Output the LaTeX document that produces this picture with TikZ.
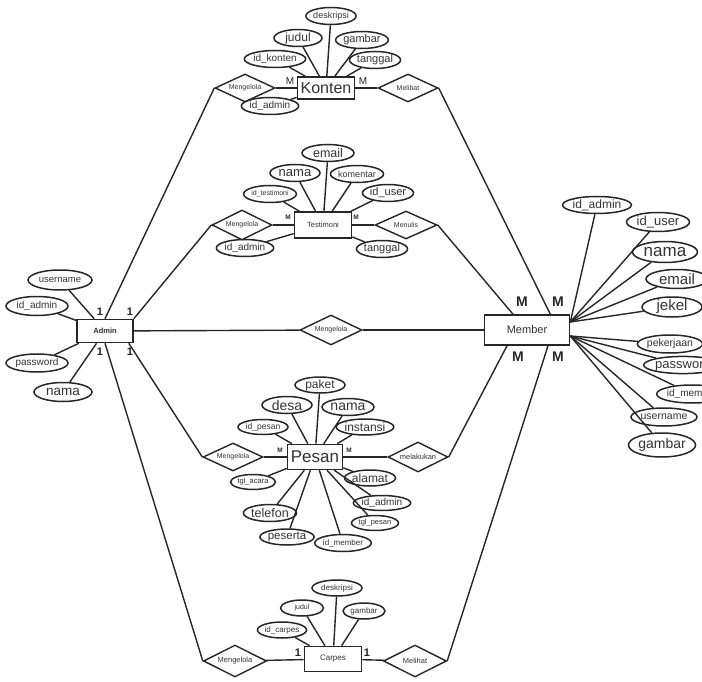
\documentclass[tikz,border=0pt]{standalone}
\usepackage{fontspec}
\setmainfont{Liberation Sans}
\usetikzlibrary{shapes.geometric}
\newcommand\FS[1]{\fontsize{#1}{#1}\selectfont}
\begin{document}
\begin{tikzpicture}[x=1pt,y=-1pt,
  every node/.style={text=black!80},
  ln/.style={line width=1.4pt, draw=black!85},
  A/.style n args={3}{draw=black!85, ellipse, line width=1.5pt, inner sep=0pt, minimum width=#1, minimum height=#2, font=\FS{#3}},
  E/.style n args={3}{draw=black!85, rectangle, line width=1.6pt, inner sep=0pt, minimum width=#1, minimum height=#2, font=\FS{#3}},
  R/.style n args={3}{draw=black!85, diamond, aspect=2.3, line width=1.4pt, inner sep=0pt, minimum width=#1, minimum height=#2, font=\FS{#3}},
  cardb/.style={font=\bfseries\FS{#1}, inner sep=0pt, text=black!85},
  cardn/.style={font=\FS{#1}, inner sep=0pt, text=black!85}]
\useasboundingbox (0,0) rectangle (702,682);

% ---------------- entities
\node[E={56}{23}{8}, font=\bfseries\FS{7.5}] (a) at (105,331) {Admin};
\node[E={85}{30}{11}] (m) at (527,330) {Member};
\node[E={57}{22}{16}] (k) at (326,88) {Konten};
\node[E={57}{26}{7.5}] (t) at (323,225) {Testimoni};
\node[E={55}{25}{17}] (p) at (315,457) {Pesan};
\node[E={57}{25}{8}] (c) at (333,659) {Carpes};

% ---------------- relationships
\node[R={60}{28}{7}] (kr1) at (245,88) {Mengelola};
\node[R={60}{28}{7}] (kr2) at (408,88) {Melihat};
\node[R={60}{30}{7}] (tr1) at (242,225) {Mengelola};
\node[R={62}{28}{7}] (tr2) at (406,225) {Menulis};
\node[R={62}{30}{7}] (mr) at (331,330) {Mengelola};
\node[R={60}{28}{7}] (pr1) at (233,457) {Mengelola};
\node[R={60}{30}{7.5}] (pr2) at (418,457) {melakukan};
\node[R={63}{32}{7.5}] (cr1) at (235,661) {Mengelola};
\node[R={63}{32}{7.5}] (cr2) at (415,661) {Melihat};

% ---------------- Admin attributes
\node[A={64}{20}{9.5}] (a1) at (60,280) {username};
\node[A={62}{19}{10}] (a2) at (37,306) {id\_admin};
\node[A={62}{18}{10}] (a3) at (37,363) {password};
\node[A={58}{19}{13.5}] (a4) at (63,392) {nama};

% ---------------- Konten attributes
\node[A={50}{17}{9}] (k1) at (331,16) {deskripsi};
\node[A={48}{17}{12}] (k2) at (298,38) {judul};
\node[A={47}{17}{11}] (k3) at (362,40) {gambar};
\node[A={48}{17}{11}] (k4) at (375,60) {tanggal};
\node[A={50}{17}{10}] (k5) at (275,59) {id\_konten};
\node[A={50}{17}{10}] (k6) at (270,106) {id\_admin};

% ---------------- Testimoni attributes
\node[A={52}{17}{12.5}] (t1) at (328,153) {email};
\node[A={50}{17}{13}] (t2) at (295,173) {nama};
\node[A={50}{17}{9}] (t3) at (357,174) {komentar};
\node[A={48}{17}{7}] (t4) at (270,194) {id\_testimoni};
\node[A={48}{17}{11}] (t5) at (388,193) {id\_user};
\node[A={53}{17}{10}] (t6) at (245,248) {id\_admin};
\node[A={48}{17}{11}] (t7) at (382,249) {tanggal};

% ---------------- Member attributes
\node[A={63}{17}{12}] (m1) at (597,205) {id\_admin};
\node[A={63}{19}{13}] (m2) at (658,222) {id\_user};
\node[A={65}{21}{17}] (m3) at (665,252) {nama};
\node[A={62}{19}{15}] (m4) at (677,279) {email};
\node[A={60}{20}{15}] (m5) at (672,307) {jekel};
\node[A={60}{18}{10.5}] (m6) at (670,344) {pekerjaan};
\node[A={65}{17}{13}] (m7) at (683,365) {password};
\node[A={58}{18}{10}] (m8) at (692,394) {id\_member};
\node[A={58}{18}{10.5}] (m9) at (664,417) {username};
\node[A={67}{24}{14}] (m10) at (662,445) {gambar};

% ---------------- Pesan attributes
\node[A={50}{16}{12}] (p1) at (320,385) {paket};
\node[A={50}{17}{14}] (p2) at (287,405) {desa};
\node[A={52}{17}{14}] (p3) at (348,407) {nama};
\node[A={50}{15}{8.5}] (p4) at (263,427) {id\_pesan};
\node[A={52}{16}{12}] (p5) at (365,427) {instansi};
\node[A={45}{15}{7.5}] (p6) at (253,482) {tgl\_acara};
\node[A={48}{16}{12}] (p7) at (370,478) {alamat};
\node[A={52}{15}{10}] (p8) at (382,503) {id\_admin};
\node[A={50}{17}{12.5}] (p9) at (270,513) {telefon};
\node[A={47}{15}{7.5}] (p10) at (375,523) {tgl\_pesan};
\node[A={47}{16}{11.5}] (p11) at (287,537) {peserta};
\node[A={50}{17}{8}] (p12) at (343,543) {id\_member};

% ---------------- Carpes attributes
\node[A={50}{16}{8}] (c1) at (337,588) {deskripsi};
\node[A={43}{16}{7}] (c2) at (302,608) {judul};
\node[A={42}{16}{8}] (c3) at (364,611) {gambar};
\node[A={47}{16}{8}] (c4) at (282,630) {id\_carpes};

% ---------------- cardinalities
\node[cardb=11] (n1) at (100,312) {1};
\node[cardb=11] (n2) at (130,312) {1};
\node[cardb=11] (n3) at (100,352) {1};
\node[cardb=11] (n4) at (130,352) {1};
\node[cardn=10] (n5) at (290,81) {M};
\node[cardn=10] (n6) at (363,81) {M};
\node[cardb=6.5] (n7) at (288,217) {M};
\node[cardb=6.5] (n8) at (356,217) {M};
\node[cardb=6.5] (n9) at (280,450) {M};
\node[cardb=6.5] (n10) at (349,450) {M};
\node[cardb=11] (n11) at (298,653) {1};
\node[cardb=11] (n12) at (367,653) {1};
\node[cardb=14] (n13) at (522,302) {M};
\node[cardb=14] (n14) at (558,302) {M};
\node[cardb=14] (n15) at (518,357) {M};
\node[cardb=14] (n16) at (558,357) {M};

\coordinate (mu) at ([yshift=8pt]m.east);
\coordinate (ml) at ([yshift=-6pt]m.east);

% ---------------- connectors
\draw[ln] (a.north) -- (kr1.west);
\draw[ln] (a.north east) -- (tr1.west);
\draw[ln] (a) -- (mr);
\draw[ln] (mr) -- (m);
\draw[ln] (a.south) -- (cr1.west);
\draw[ln] ([xshift=-5pt]a.south east) -- (pr1.west);

\draw[ln] (kr1) -- (k);
\draw[ln] (k) -- (kr2);
\draw[ln] (kr2.east) -- ([xshift=-20pt]m.north east);
\draw[ln] (tr1) -- (t);
\draw[ln] (t) -- (tr2);
\draw[ln] (tr2.east) -- ([xshift=-14pt]m.north);
\draw[ln] (pr1) -- (p);
\draw[ln] (p) -- (pr2);
\draw[ln] (pr2.east) -- ([xshift=-20pt]m.south);
\draw[ln] (cr1) -- (c);
\draw[ln] (c) -- (cr2);
\draw[ln] (cr2.east) -- ([xshift=21pt]m.south);

\foreach \i in {a1,a2,a3,a4} \draw[ln] (a) -- (\i);
\foreach \i in {k1,k2,k3,k4,k5,k6} \draw[ln] (k) -- (\i);
\foreach \i in {t1,t2,t3,t4,t5,t6,t7} \draw[ln] (t) -- (\i);
\foreach \i in {p1,p2,p3,p4,p5,p6,p7,p8,p9,p10,p11,p12} \draw[ln] (p) -- (\i);
\foreach \i in {c1,c2,c3,c4} \draw[ln] (c) -- (\i);
\foreach \i in {m1,m2,m3,m4,m5} \draw[ln] (mu) -- (\i);
\foreach \i in {m6,m7,m8,m9,m10} \draw[ln] (ml) -- (\i);
\end{tikzpicture}
\end{document}
